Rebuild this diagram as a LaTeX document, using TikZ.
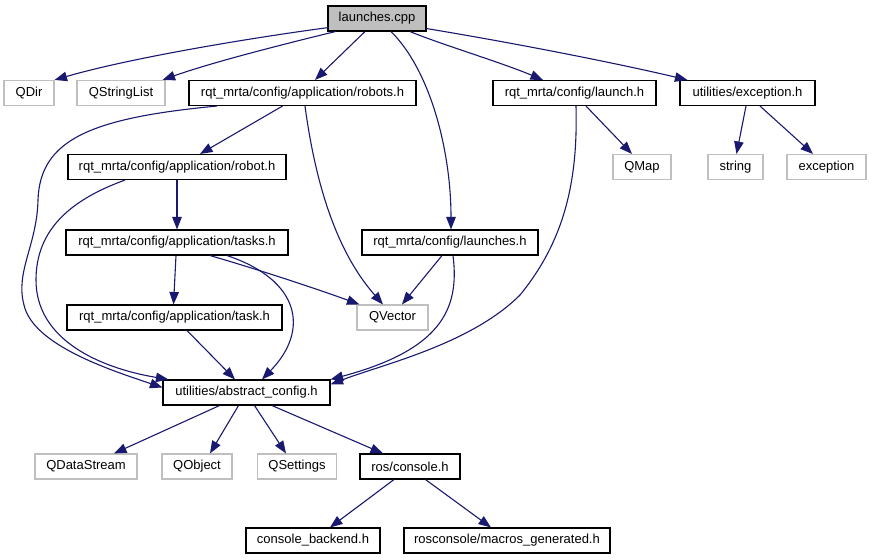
\documentclass[tikz,border=0pt]{standalone}
\usepackage{fontspec}
\setmainfont{Liberation Sans}
\usetikzlibrary{arrows.meta,calc}
\definecolor{edgecol}{HTML}{191970}
\definecolor{greybd}{HTML}{BFBFBF}
\begin{document}
\begin{tikzpicture}[x=1pt,y=-1pt,
  box/.style={draw=black,line width=1.1pt,inner sep=0pt,minimum height=25pt,
    font=\fontsize{13}{15}\selectfont,fill=white},
  ext/.style={box,draw=greybd},
  dep/.style={draw=edgecol,line width=1.1pt,-{Triangle[length=12.5pt,width=9.5pt]}}]
\useasboundingbox[fill=white] (0,0) rectangle (871,560);
% row 0
\node[box,fill=greybd,minimum width=98pt] (cpp) at (377,18.5) {launches.cpp};
% row 1
\node[ext,minimum width=50pt] (qdir) at (29,93) {QDir};
\node[ext,minimum width=88pt] (qsl) at (121,93) {QStringList};
\node[box,minimum width=227pt] (robots) at (302.5,93) {rqt\_mrta/config/application/robots.h};
\node[box,minimum width=163pt] (launch) at (574.5,93) {rqt\_mrta/config/launch.h};
\node[box,minimum width=135pt] (exch) at (747.5,93) {utilities/exception.h};
% row 2
\node[box,minimum width=218pt] (robot) at (177,167) {rqt\_mrta/config/application/robot.h};
\node[ext,minimum width=58pt] (qmap) at (642,167) {QMap};
\node[ext,minimum width=55pt] (string) at (735.5,167) {string};
\node[ext,minimum width=79pt] (exception) at (826.5,167) {exception};
% row 3
\node[box,minimum width=222pt] (tasks) at (177,242.5) {rqt\_mrta/config/application/tasks.h};
\node[box,minimum width=176pt] (launches) at (450,242.5) {rqt\_mrta/config/launches.h};
% row 4
\node[box,minimum width=215pt] (task) at (174.5,317.5) {rqt\_mrta/config/application/task.h};
\node[ext,minimum width=71pt] (qvector) at (392.5,317.5) {QVector};
% row 5
\node[box,minimum width=167pt] (abstract) at (246.5,392.5) {utilities/abstract\_config.h};
% row 6
\node[ext,minimum width=102pt] (qds) at (86,466.5) {QDataStream};
\node[ext,minimum width=70pt] (qobj) at (197,466.5) {QObject};
\node[ext,minimum width=79pt] (qset) at (297,466.5) {QSettings};
\node[box,minimum width=100pt] (console) at (410,466.5) {ros/console.h};
% row 7
\node[box,minimum width=134pt] (backend) at (313,540.5) {console\_backend.h};
\node[box,minimum width=206pt] (macros) at (507,540.5) {rosconsole/macros\_generated.h};

% edges from launches.cpp
\draw[dep] ($(cpp.south west)+(1,-4)$) .. controls (250,38) and (130,58) .. (qdir.north east);
\draw[dep] ($(cpp.south west)+(8,0)$) .. controls (280,45) and (210,63) .. ($(qsl.north east)+(-3,0)$);
\draw[dep] ($(cpp.south)+(-12,0)$) -- ($(robots.north)+(12.5,0)$);
\draw[dep] ($(cpp.south)+(14,0)$) .. controls (430,70) and (451,150) .. ($(launches.north)+(1,0)$);
\draw[dep] ($(cpp.south)+(33,0)$) .. controls (440,44) and (500,62) .. ($(launch.north)+(-31.5,0)$);
\draw[dep] ($(cpp.south east)+(0,-3)$) .. controls (520,44) and (620,64) .. ($(exch.north west)+(8,0)$);
% robots.h
\draw[dep] ($(robots.south)+(-85.5,0)$) .. controls (90,118) and (40,140) .. (38,200)
  .. controls (37,245) and (15,272) .. (24,305)
  .. controls (33,345) and (110,370) .. ($(abstract.west)+(0,-5)$);
\draw[dep] ($(robots.south)+(-20,0)$) -- ($(robot.north)+(23,0)$);
\draw[dep] ($(robots.south)+(2.5,0)$) .. controls (315,180) and (335,250) .. ($(qvector.north)+(-9.5,0)$);
% robot.h
\draw[dep] ($(robot.south)+(-52,0)$) .. controls (70,200) and (36,230) .. (36,280)
  .. controls (36,340) and (100,368) .. ($(abstract.north west)+(6,0)$);
\draw[dep] (robot.south) -- (tasks.north);
% tasks.h
\draw[dep] ($(tasks.south)+(-1,0)$) -- ($(task.north)+(-1,0)$);
\draw[dep] ($(tasks.south)+(33,0)$) .. controls (260,270) and (320,290) .. ($(qvector.north west)+(3,0)$);
\draw[dep] ($(tasks.south)+(50,0)$) .. controls (300,280) and (310,330) .. ($(abstract.north)+(15.5,0)$);
% task.h
\draw[dep] ($(task.south)+(12.5,0)$) -- ($(abstract.north)+(-11.5,0)$);
% launches.h
\draw[dep] ($(launches.south)+(-8,0)$) -- ($(qvector.north)+(9.5,0)$);
\draw[dep] ($(launches.south)+(3,0)$) .. controls (460,310) and (440,350) .. (abstract.north east);
% launch.h
\draw[dep] ($(launch.south)+(1.5,0)$) .. controls (578,180) and (565,240) .. (520,295)
  .. controls (470,345) and (380,365) .. ($(abstract.east)+(0,-8)$);
\draw[dep] ($(launch.south)+(11.5,0)$) -- ($(qmap.north)+(-10,0)$);
% exception.h
\draw[dep] ($(exch.south)+(-1.5,0)$) -- ($(string.north)+(1,0)$);
\draw[dep] ($(exch.south)+(12.5,0)$) -- ($(exception.north)+(-13.5,0)$);
% abstract_config.h
\draw[dep] ($(abstract.south)+(-27,0)$) -- ($(qds.north)+(28,0)$);
\draw[dep] ($(abstract.south)+(-8,0)$) -- ($(qobj.north)+(13,0)$);
\draw[dep] ($(abstract.south)+(8,0)$) -- ($(qset.north)+(-11,0)$);
\draw[dep] ($(abstract.south)+(25.5,0)$) -- ($(console.north)+(-27,0)$);
% ros/console.h
\draw[dep] ($(console.south)+(-16,0)$) -- ($(backend.north)+(17,0)$);
\draw[dep] ($(console.south)+(15.5,0)$) -- ($(macros.north)+(-16,0)$);
\end{tikzpicture}
\end{document}
